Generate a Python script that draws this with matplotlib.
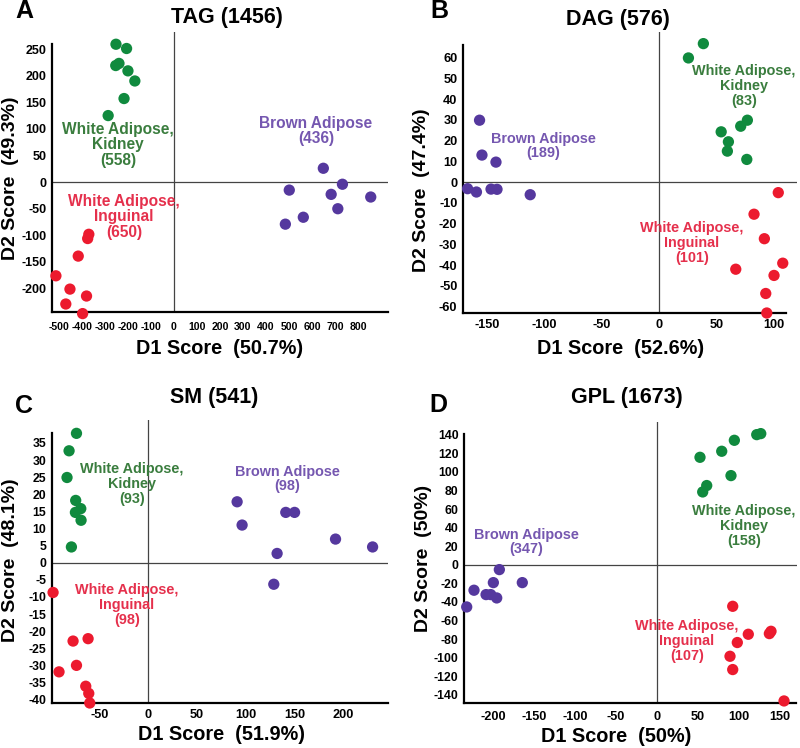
import matplotlib
matplotlib.use("Agg")
import matplotlib.pyplot as plt
import numpy as np

plt.rcParams['font.family'] = ['Liberation Sans', 'DejaVu Sans']
plt.rcParams['font.weight'] = 'bold'
plt.rcParams['axes.unicode_minus'] = False

# ---------------- data ----------------
# Panel A: TAG
tag_kidney_x = [-252, -206, -253, -239, -200, -170, -217, -286]
tag_kidney_y = [259, 251, 219, 223, 209, 190, 157, 125]
tag_brown_x = [649, 732, 501, 683, 855, 712, 562, 484]
tag_brown_y = [26, -4, -15, -23, -28, -50, -66, -79]
tag_ing_x = [-370, -375, -416, -513, -452, -380, -470, -397]
tag_ing_y = [-98, -106, -139, -176, -201, -214, -229, -247]

# Panel B: DAG
dag_kidney_x = [38.5, 25.5, 76.8, 71, 54, 60.3, 59.4, 76.3]
dag_kidney_y = [66.7, 59.8, 29.8, 26.9, 24.2, 19.4, 14.9, 10.9]
dag_brown_x = [-156.3, -154.2, -142, -166.7, -159, -146.3, -141.1, -112.2]
dag_brown_y = [29.8, 13, 9.6, -3.2, -4.8, -3.4, -3.5, -6.1]
dag_ing_x = [103.7, 82.6, 91.6, 107.6, 66.7, 100, 92.8, 93.7]
dag_ing_y = [-5.1, -15.5, -27.3, -39.1, -42, -45, -53.7, -63.1]

# Panel C: SM
sm_kidney_x = [-73.4, -81, -83.1, -74.2, -69, -74.5, -68.7, -78.6]
sm_kidney_y = [37.8, 32.7, 24.9, 18.2, 15.8, 14.7, 12.4, 4.6]
sm_brown_x = [91.3, 96.4, 141.2, 150.2, 192.2, 230.2, 132.3, 128.9]
sm_brown_y = [17.8, 11, 14.7, 14.7, 6.9, 4.6, 2.7, -6.3]
sm_ing_x = [-97.4, -76.9, -61.5, -91.3, -73.4, -63.9, -60.8, -59.8]
sm_ing_y = [-8.7, -22.9, -22.2, -31.9, -30, -36.1, -38.2, -41]

# Panel D: GPL
gpl_kidney_x = [126.5, 121.6, 94.3, 78.9, 52.4, 90.2, 60.6, 55.7]
gpl_kidney_y = [141.2, 140.1, 134, 122.2, 115.7, 96, 85.3, 78.4]
gpl_brown_x = [-192.3, -199.6, -164.3, -223.2, -208.5, -202.8, -195.5, -232.1]
gpl_brown_y = [-5.2, -19.2, -19.2, -27.4, -32.1, -32.1, -35.7, -45.4]
gpl_ing_x = [92.3, 139, 137, 111.3, 97.9, 89, 92.3, 154.9]
gpl_ing_y = [-44.7, -71.6, -74.1, -74.8, -83.7, -98.5, -112.8, -146.6]

titles = ["TAG (1456)", "DAG (576)", "SM (541)", "GPL (1673)"]
letters = ["A", "B", "C", "D"]
xlabels = ["D1 Score  (50.7%)", "D1 Score  (52.6%)", "D1 Score  (51.9%)", "D1 Score  (50%)"]
ylabels = ["D2 Score  (49.3%)", "D2 Score  (47.4%)", "D2 Score  (48.1%)", "D2 Score  (50%)"]
xticks_list = [list(range(-500, 801, 100)), list(range(-150, 101, 50)),
               list(range(-50, 201, 50)), list(range(-200, 151, 50))]
yticks_list = [list(range(-200, 251, 50)), list(range(-60, 61, 10)),
               list(range(-40, 36, 5)), list(range(-140, 141, 20))]

kidney_labels = ["White Adipose,\nKidney\n(558)", "White Adipose,\nKidney\n(83)",
                 "White Adipose,\nKidney\n(93)", "White Adipose,\nKidney\n(158)"]
brown_labels = ["Brown Adipose\n(436)", "Brown Adipose\n(189)",
                "Brown Adipose\n(98)", "Brown Adipose\n(347)"]
ing_labels = ["White Adipose,\nInguinal\n(650)", "White Adipose,\nInguinal\n(101)",
              "White Adipose,\nInguinal\n(98)", "White Adipose,\nInguinal\n(107)"]

GREEN = "#108a3e"
PURPLE = "#55389e"
RED = "#ec1a2e"
GREEN_T = "#3a7d3e"
PURPLE_T = "#7557b0"
RED_T = "#e5304c"

W, H = 800, 748
fig = plt.figure(figsize=(8, 7.48), dpi=100)

def px_rect(l, t, r, b):
    return [l / W, (H - b) / H, (r - l) / W, (b - t) / H]

rects = [px_rect(52, 32, 388, 312), px_rect(463, 32, 797, 313),
         px_rect(52, 420, 388, 703), px_rect(464, 422, 797, 703)]
xlims = [(-530, 930), (-170.7, 120), (-98.5, 246), (-235.4, 170.7)]
ylims = [(-244, 282), (-63.1, 72.3), (-41, 41.7), (-148.8, 153.7)]
spine_top = [259, 65.9, 37.8, 141.2]
spine_right = [930, 110, 246, 170]
xtick_size = [7.6, 9.2, 9.2, 9.2]
xtick_pad = [7, 4, 4, 6]
ytick_size = [9.0, 9.2, 8.8, 8.8]
ann_size = [11.2, 10.4, 10.4, 10.4]

data = [
    (tag_kidney_x, tag_kidney_y, tag_brown_x, tag_brown_y, tag_ing_x, tag_ing_y),
    (dag_kidney_x, dag_kidney_y, dag_brown_x, dag_brown_y, dag_ing_x, dag_ing_y),
    (sm_kidney_x, sm_kidney_y, sm_brown_x, sm_brown_y, sm_ing_x, sm_ing_y),
    (gpl_kidney_x, gpl_kidney_y, gpl_brown_x, gpl_brown_y, gpl_ing_x, gpl_ing_y),
]

kid_pos = [(118, 145), (744, 86), (132, 484), (744, 526)]
brown_pos = [(316, 131), (543, 146), (287, 479), (526, 542)]
ing_pos = [(124, 217), (692, 243), (127, 605), (687, 641)]
title_pos = [(227, 17), (618, 19), (214, 397), (627, 397)]
letter_pos = [(24, 11), (439, 11), (24, 406), (438, 405)]
xlabel_pos = [(220, 348), (621, 348), (221, 735), (616, 737)]
ylabel_pos = [(11, 178), (421, 190), (11, 560), (423, 558)]

def ftext(x, y, s, **kw):
    fig.text(x / W, 1 - y / H, s, ha='center', va='center', **kw)

for i in range(4):
    ax = fig.add_axes(rects[i])
    kx, ky, bx, by, ix, iy = data[i]
    ax.set_xlim(*xlims[i])
    ax.set_ylim(*ylims[i])
    ax.axhline(0, color="#444444", lw=0.9, zorder=1)
    ax.axvline(0, color="#444444", lw=0.9, zorder=1)
    for xs, ys, c in [(kx, ky, GREEN), (bx, by, PURPLE), (ix, iy, RED)]:
        ax.scatter(xs, ys, s=66, color=c, edgecolors='none', zorder=3, clip_on=False)
    for s in ['top', 'right']:
        ax.spines[s].set_visible(False)
    ax.spines['left'].set_linewidth(1.6)
    ax.spines['bottom'].set_linewidth(1.6)
    ax.spines['left'].set_bounds(ylims[i][0], spine_top[i])
    ax.spines['bottom'].set_bounds(xlims[i][0], spine_right[i])
    ax.set_xticks(xticks_list[i])
    ax.set_yticks(yticks_list[i])
    ax.tick_params(axis='x', length=0, labelsize=xtick_size[i], pad=xtick_pad[i])
    ax.tick_params(axis='y', length=0, labelsize=ytick_size[i], pad=4)
    for lab in ax.get_xticklabels() + ax.get_yticklabels():
        lab.set_fontweight('bold')
    ax.patch.set_alpha(0)

    fs = ann_size[i]
    ftext(*kid_pos[i], kidney_labels[i], color=GREEN_T, fontsize=fs, fontweight='bold', linespacing=1.05)
    ftext(*brown_pos[i], brown_labels[i], color=PURPLE_T, fontsize=fs, fontweight='bold', linespacing=1.05)
    ftext(*ing_pos[i], ing_labels[i], color=RED_T, fontsize=fs, fontweight='bold', linespacing=1.05)
    ftext(*title_pos[i], titles[i], fontsize=15.5, fontweight='bold')
    ftext(*letter_pos[i], letters[i], fontsize=18, fontweight='bold')
    ftext(*xlabel_pos[i], xlabels[i], fontsize=14.3, fontweight='bold')
    ftext(*ylabel_pos[i], ylabels[i], fontsize=14.0, fontweight='bold', rotation=90)

fig.savefig("out.png", dpi=100)
